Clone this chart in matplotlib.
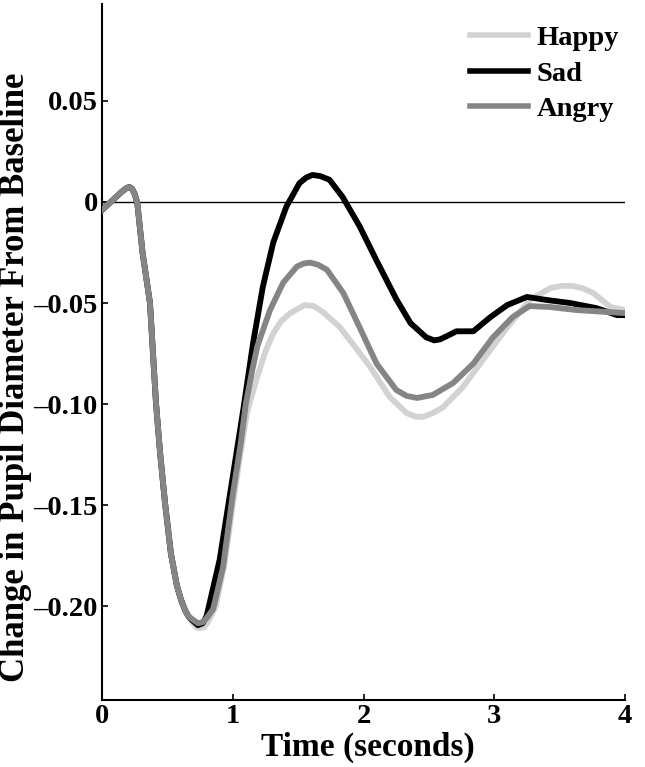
import matplotlib
matplotlib.use("Agg")
import matplotlib.pyplot as plt
import numpy as np

plt.rcParams['font.family'] = ['Liberation Serif', 'DejaVu Serif']
plt.rcParams['font.weight'] = 'bold'

# shared early part of the response (all three conditions overlap)
t_common = [0.0, 0.05, 0.10, 0.15, 0.19, 0.21, 0.23, 0.25, 0.27, 0.31, 0.367, 0.39,
            0.413, 0.444, 0.482, 0.527, 0.573, 0.605, 0.635, 0.66]
v_common = [-0.004, -0.001, 0.002, 0.005, 0.0070, 0.0074, 0.0065, 0.004, -0.0005, -0.025,
            -0.05, -0.075, -0.0995, -0.124, -0.149, -0.174, -0.19, -0.197, -0.202, -0.205]

t_happy = [0.69, 0.72, 0.745, 0.78, 0.81, 0.87, 0.94, 1.0, 1.06, 1.11, 1.185, 1.25,
           1.31, 1.37, 1.44, 1.55, 1.62, 1.69, 1.82, 1.95, 2.05, 2.20, 2.33, 2.40,
           2.455, 2.53, 2.61, 2.76, 2.915, 3.10, 3.27, 3.43, 3.52, 3.60, 3.68,
           3.755, 3.89, 4.0]
v_happy = [-0.208, -0.2105, -0.211, -0.2105, -0.208, -0.200, -0.178, -0.150,
           -0.124, -0.104, -0.087, -0.074, -0.065, -0.059, -0.055, -0.051, -0.0515,
           -0.0545, -0.062, -0.073, -0.0815, -0.0965, -0.1045, -0.1062, -0.1064,
           -0.1045, -0.1015, -0.0916, -0.078, -0.062, -0.0485, -0.0426, -0.0415,
           -0.0416, -0.0428, -0.045, -0.052, -0.0535]

t_sad = [0.69, 0.734, 0.77, 0.80, 0.90, 1.00, 1.08, 1.155, 1.23, 1.31, 1.41, 1.51,
         1.56, 1.61, 1.67, 1.74, 1.84, 1.97, 2.10, 2.25, 2.36, 2.48, 2.54, 2.585,
         2.65, 2.71, 2.84, 2.97, 3.10, 3.25, 3.40, 3.58, 3.78, 3.94, 4.0]
v_sad = [-0.207, -0.2095, -0.2085, -0.205, -0.177, -0.136, -0.103, -0.070,
         -0.042, -0.020, -0.0023, 0.0093, 0.0120, 0.0134, 0.0128, 0.011, 0.0025,
         -0.012, -0.029, -0.048, -0.060, -0.067, -0.0685, -0.068, -0.066, -0.064,
         -0.064, -0.057, -0.051, -0.047, -0.0485, -0.050, -0.0525, -0.056, -0.056]

t_angry = [0.69, 0.734, 0.77, 0.80, 0.85, 0.925, 1.0, 1.06, 1.10, 1.15, 1.19, 1.285,
           1.385, 1.49, 1.54, 1.59, 1.65, 1.72, 1.845, 1.97, 2.10, 2.25, 2.33, 2.41,
           2.53, 2.685, 2.84, 2.99, 3.14, 3.27, 3.43, 3.63, 3.83, 4.0]
v_angry = [-0.2065, -0.2085, -0.208, -0.206, -0.2015, -0.181, -0.145, -0.12,
           -0.10, -0.083, -0.071, -0.0535, -0.040, -0.032, -0.0305, -0.030, -0.031,
           -0.0335, -0.045, -0.062, -0.080, -0.093, -0.0960, -0.097, -0.0955,
           -0.0896, -0.080, -0.067, -0.057, -0.0515, -0.052, -0.0535, -0.0543, -0.055]

yticks = [0.05, 0, -0.05, -0.10, -0.15, -0.20]
ytick_labels = ['0.05', '0', '\u20130.05', '\u20130.10', '\u20130.15', '\u20130.20']
xticks = [0, 1, 2, 3, 4]

fig = plt.figure(figsize=(6.45, 7.67), dpi=100)
ax = fig.add_axes([102/645, 1-700/767, 523/645, 696/767])

ax.axhline(0, color='black', lw=1.0, zorder=1)

ax.plot(t_common + t_happy, v_common + v_happy, color='#d2d2d2', lw=4.2, label='Happy', zorder=2)
ax.plot(t_common + t_sad, v_common + v_sad, color='black', lw=4.2, label='Sad', zorder=3)
ax.plot(t_common + t_angry, v_common + v_angry, color='#858585', lw=4.2, label='Angry', zorder=4)

ax.set_xlim(0, 4)
ax.set_ylim(-0.2465, 0.098)
ax.set_xticks(xticks)
ax.set_xticklabels([str(x) for x in xticks])
ax.set_yticks(yticks)
ax.set_yticklabels(ytick_labels)

for s in ['top', 'right']:
    ax.spines[s].set_visible(False)
for s in ['left', 'bottom']:
    ax.spines[s].set_linewidth(1.5)

ax.tick_params(direction='in', length=4, width=1.2, labelsize=20.5, pad=3)

ax.set_xlabel('Time (seconds)', fontsize=24, fontweight='bold')
ax.set_ylabel('Change in Pupil Diameter From Baseline', fontsize=25, fontweight='bold')
ax.yaxis.set_label_coords(-0.1335, 0.464)
ax.xaxis.set_label_coords(0.509, -0.045)

leg = ax.legend(loc='upper left', bbox_to_anchor=(470/645, 1-25/767),
                bbox_transform=fig.transFigure, frameon=False, fontsize=20.5,
                handlelength=2.05, handletextpad=0.3, labelspacing=0.34,
                borderpad=0, borderaxespad=0)
for line in leg.get_lines():
    line.set_linewidth(4)

fig.savefig('out.png', dpi=100)
